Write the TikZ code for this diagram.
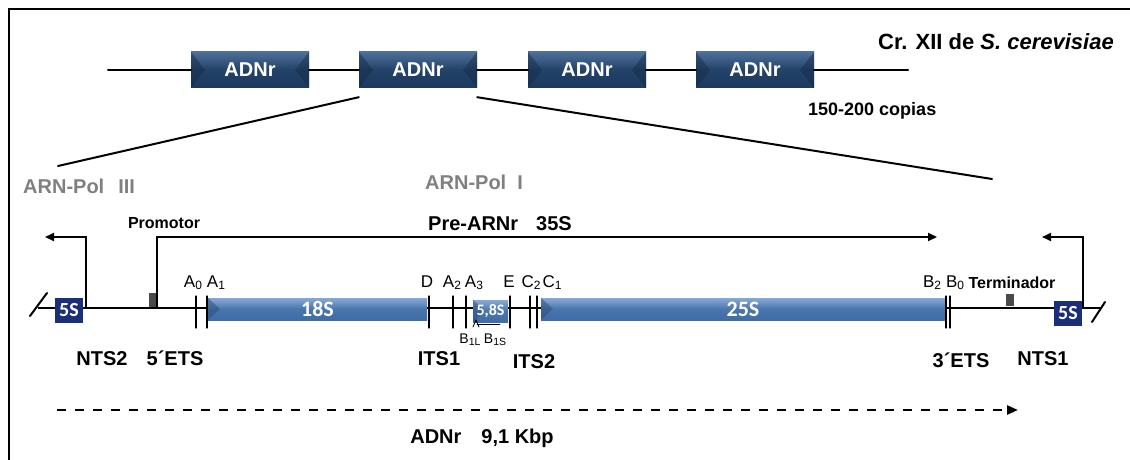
\documentclass[tikz,border=0pt]{standalone}
\usepackage{fontspec}
\setmainfont{Liberation Sans}
\newfontfamily\calfont{Carlito}
\usetikzlibrary{arrows.meta}
\usetikzlibrary{backgrounds,positioning}
\definecolor{adnTop}{HTML}{4D6F98}
\definecolor{adnDark}{HTML}{1C3A5F}
\definecolor{barTop}{HTML}{86AAD6}
\definecolor{barDark}{HTML}{3F6CA6}
\definecolor{fiveS}{HTML}{1B2E78}
\definecolor{polGray}{HTML}{808080}
\definecolor{boxGray}{HTML}{4A4A4A}
\newcommand{\fs}[1]{\fontsize{#1}{#1}\selectfont}
\newcommand{\cutsub}[1]{\raisebox{-0.3ex}{\fs{12}#1}}
\newcommand{\smallsub}[1]{\raisebox{-0.3ex}{\fs{10.5}#1}}
\tikzset{>={Triangle[length=9pt,width=8pt]},
  dnaline/.style={line width=2pt},
  frameline/.style={line width=2pt},
  cuttick/.style={line width=1.3pt},
  adnbox/.style={rectangle,inner sep=0pt,minimum width=118pt,minimum height=36pt,
    top color=adnTop,bottom color=adnDark,middle color=adnDark!85!adnTop,
    text=white,font=\bfseries\fs{20},
    path picture={
      \fill[adnDark!70!black,opacity=.45] (path picture bounding box.north west)
        -- ([xshift=14pt]path picture bounding box.west) -- (path picture bounding box.south west) -- cycle;
      \fill[adnDark!70!black,opacity=.45] (path picture bounding box.north east)
        -- ([xshift=-14pt]path picture bounding box.east) -- (path picture bounding box.south east) -- cycle;}},
  rrnabar/.style={rectangle,inner sep=0pt,minimum height=22pt,
    top color=barTop,bottom color=barDark,middle color=barDark!85!barTop,
    text=white,font=\calfont\bfseries\fs{22},
    path picture={
      \fill[barDark!70!black,opacity=.5] (path picture bounding box.north west)
        -- ([xshift=12pt]path picture bounding box.west) -- (path picture bounding box.south west) -- cycle;}},
  fivesbox/.style={rectangle,inner sep=0pt,minimum width=28pt,minimum height=25pt,
    fill=fiveS,text=white,font=\calfont\bfseries\fs{20}},
  signalbox/.style={rectangle,inner sep=0pt,minimum width=8pt,fill=boxGray},
  txarrow/.style={line width=2pt,->},
  cutlabel/.style={anchor=base,inner sep=0pt,font=\fs{17}},
  smallcut/.style={anchor=base,inner sep=0pt,font=\fs{14}},
  regionlabel/.style={anchor=base,inner sep=0pt,font=\bfseries\fs{20}},
  poltext/.style={anchor=base west,inner sep=0pt,text=polGray,font=\bfseries\fs{20}}}
\begin{document}
\begin{tikzpicture}[x=1pt,y=-1pt,line cap=round]
  \useasboundingbox (0,0) rectangle (1130,460);
  \draw [frameline] (9,460) -- (9,9) -- (1130,9);

  % chromosome XII with the rDNA repeats
  \coordinate (chrL) at (108,70);
  \coordinate (chrR) at (908,70);
  \node [adnbox] (rep1) at (250,70) {ADNr};
  \node [adnbox] (rep2) at (418,70) {ADNr};
  \node [adnbox] (rep3) at (587,70) {ADNr};
  \node [adnbox] (rep4) at (755,70) {ADNr};
  \draw [dnaline] (chrL) -- (rep1) (rep1) -- (rep2) (rep2) -- (rep3)
    (rep3) -- (rep4) (rep4) -- (chrR);
  \node [anchor=base east,inner sep=0pt,font=\bfseries\fs{22}] (chrname) at (1114,50)
    {Cr. XII de \textit{S. cerevisiae}};
  \node [anchor=base west,inner sep=0pt,font=\bfseries\fs{18}] (ncopies) at (808,115) {150-200 copias};

  % zoom on one repeat
  \coordinate (zoomL) at (58,166);
  \coordinate (zoomR) at (992,179);
  \draw [dnaline] ([yshift=-9pt]rep2.south west) -- (zoomL);
  \draw [dnaline] ([yshift=-9pt]rep2.south east) -- (zoomR);
  \node [poltext] (pol3) at (23,193) {ARN-Pol\hspace{0.7em}III};
  \node [poltext] (pol1) at (425,189) {ARN-Pol\hspace{0.55em}I};

  % the repeat
  \coordinate (lineL) at (38,308);
  \coordinate (lineR) at (1100,308);
  \node [fivesbox] (fivesL) at (69,310) {5S};
  \node [fivesbox] (fivesR) at (1068,313) {5S};
  \node [signalbox,minimum height=14pt] (prom) at (153,300) {};
  \node [signalbox,minimum height=12pt] (term) at (1010,300) {};
  \node [rrnabar,minimum width=219pt] (s18) at (317.5,309) {18S};
  \node [rrnabar,minimum width=35pt,font=\calfont\bfseries\fs{16}] (s58) at (490.5,311) {5,8S};
  \node [rrnabar,minimum width=404pt] (s25) at (743,309) {25S};
  \begin{scope}[on background layer]
    \draw [dnaline] (lineL) -- (lineR);
  \end{scope}
  \draw [dnaline] (30,316) -- (47,293);
  \draw [dnaline] (1092,322) -- (1105,302);

  \foreach \x in {196,207,429,453,466,510,530,537,946,950}
    \draw [cuttick] (\x,296) -- (\x,328);
  \draw [thick] (473,327) -- (476,320) -- (479,327);
  \draw [thick] (477,324) -- (500,324);

  \node [cutlabel] (cA0) at (193,287) {A\cutsub{0}};
  \node [cutlabel] (cA1) at (216,287) {A\cutsub{1}};
  \node [cutlabel] (cD) at (427,287) {D};
  \node [cutlabel] (cA2) at (452,287) {A\cutsub{2}};
  \node [cutlabel] (cA3) at (474,287) {A\cutsub{3}};
  \node [cutlabel] (cE) at (509,287) {E};
  \node [cutlabel] (cC2) at (531,287) {C\cutsub{2}};
  \node [cutlabel] (cC1) at (552,287) {C\cutsub{1}};
  \node [cutlabel] (cB2) at (932,287) {B\cutsub{2}};
  \node [cutlabel] (cB0) at (955,287) {B\cutsub{0}};
  \node [smallcut] (cB1L) at (470,343) {B\smallsub{1L}};
  \node [smallcut] (cB1S) at (495,343) {B\smallsub{1S}};

  \node [anchor=base,inner sep=0pt,font=\bfseries\fs{16}] (promlabel) at (164,228) {Promotor};
  \node [anchor=base,inner sep=0pt,font=\bfseries\fs{16}] (termlabel) at (1012,288) {Terminador};

  % transcription
  \coordinate (tssL) at (86,308);
  \coordinate (tss35) at (157,308);
  \coordinate (tssR) at (1083,308);
  \draw [txarrow] (tssL) |- (45,237);
  \draw [txarrow] (tss35) |- (937,237);
  \draw [txarrow] (tssR) |- (1042,237);
  \node [anchor=base,inner sep=0pt,font=\bfseries\fs{20}] (prelabel) at (500,230)
    {Pre-ARNr\hspace{0.9em}35S};

  \node [regionlabel] (nts2) at (102,365) {NTS2};
  \node [regionlabel] (ets5) at (175,365) {5´ETS};
  \node [regionlabel] (its1) at (439,365) {ITS1};
  \node [regionlabel] (its2) at (534,368) {ITS2};
  \node [regionlabel] (ets3) at (961,367) {3´ETS};
  \node [regionlabel] (nts1) at (1043,365) {NTS1};

  % length of the repeat
  \coordinate (lenL) at (57,410);
  \coordinate (lenR) at (1018,410);
  \draw [line width=2.5pt,line cap=butt,dash pattern=on 9pt off 9pt,
    -{Triangle[length=11pt,width=9pt]}] (lenL) -- (lenR);
  \node [regionlabel] (replen) at (482,443) {ADNr\hspace{1em}9,1 Kbp};
\end{tikzpicture}
\end{document}
